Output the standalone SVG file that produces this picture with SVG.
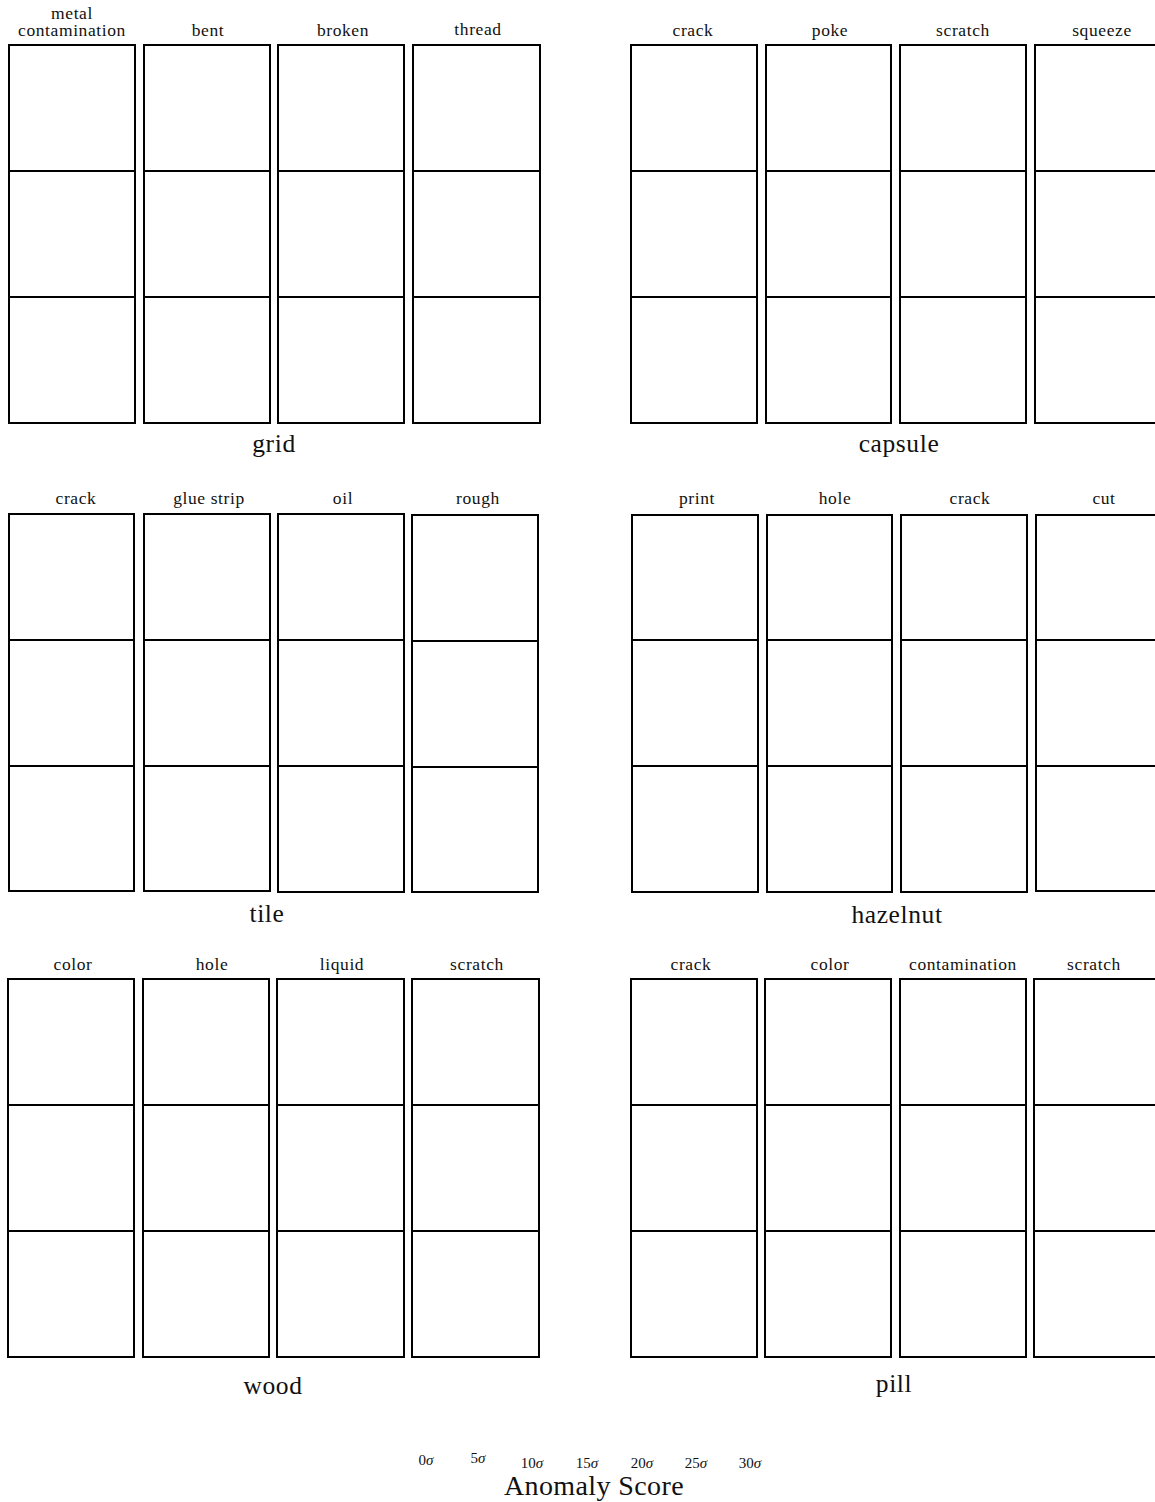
<svg xmlns="http://www.w3.org/2000/svg" width="1155" height="1502" viewBox="0 0 1155 1502">
<style>
.b{fill:none;stroke:#000;stroke-width:2}
.c{font-family:"Liberation Serif","DejaVu Serif",serif;font-size:17.5px;letter-spacing:0.6px;text-anchor:middle;fill:#111}
.t{font-family:"Liberation Serif","DejaVu Serif",serif;font-size:25.5px;letter-spacing:0.6px;text-anchor:middle;fill:#111}
.s{font-family:"Liberation Serif","DejaVu Serif",serif;font-size:15px;text-anchor:middle;fill:#111}
.a{font-family:"Liberation Serif","DejaVu Serif",serif;font-size:28px;letter-spacing:0.4px;text-anchor:middle;fill:#111}
</style>
<rect width="1155" height="1502" fill="#fff"/>
<g id="panel-grid">
<text class="c" x="72" y="19">metal</text>
<text class="c" x="72" y="36">contamination</text>
<text class="c" x="208" y="36">bent</text>
<text class="c" x="343" y="36">broken</text>
<text class="c" x="478" y="35">thread</text>
<rect class="b" x="9" y="45" width="126" height="126"/><rect class="b" x="9" y="171" width="126" height="126"/><rect class="b" x="9" y="297" width="126" height="126"/>
<rect class="b" x="144" y="45" width="126" height="126"/><rect class="b" x="144" y="171" width="126" height="126"/><rect class="b" x="144" y="297" width="126" height="126"/>
<rect class="b" x="278" y="45" width="126" height="126"/><rect class="b" x="278" y="171" width="126" height="126"/><rect class="b" x="278" y="297" width="126" height="126"/>
<rect class="b" x="413" y="45" width="127" height="126"/><rect class="b" x="413" y="171" width="127" height="126"/><rect class="b" x="413" y="297" width="127" height="126"/>
<text class="t" x="274" y="452">grid</text>
</g>
<g id="panel-capsule">
<text class="c" x="693" y="36">crack</text>
<text class="c" x="830" y="36">poke</text>
<text class="c" x="963" y="36">scratch</text>
<text class="c" x="1102" y="36">squeeze</text>
<rect class="b" x="631" y="45" width="126" height="126"/><rect class="b" x="631" y="171" width="126" height="126"/><rect class="b" x="631" y="297" width="126" height="126"/>
<rect class="b" x="766" y="45" width="125" height="126"/><rect class="b" x="766" y="171" width="125" height="126"/><rect class="b" x="766" y="297" width="125" height="126"/>
<rect class="b" x="900" y="45" width="126" height="126"/><rect class="b" x="900" y="171" width="126" height="126"/><rect class="b" x="900" y="297" width="126" height="126"/>
<rect class="b" x="1035" y="45" width="126" height="126"/><rect class="b" x="1035" y="171" width="126" height="126"/><rect class="b" x="1035" y="297" width="126" height="126"/>
<text class="t" x="899" y="452">capsule</text>
</g>
<g id="panel-tile">
<text class="c" x="76" y="504">crack</text>
<text class="c" x="209" y="504">glue strip</text>
<text class="c" x="343" y="504">oil</text>
<text class="c" x="478" y="504">rough</text>
<rect class="b" x="9" y="514" width="125" height="126"/><rect class="b" x="9" y="640" width="125" height="126"/><rect class="b" x="9" y="766" width="125" height="125"/>
<rect class="b" x="144" y="514" width="126" height="126"/><rect class="b" x="144" y="640" width="126" height="126"/><rect class="b" x="144" y="766" width="126" height="125"/>
<rect class="b" x="278" y="514" width="126" height="126"/><rect class="b" x="278" y="640" width="126" height="126"/><rect class="b" x="278" y="766" width="126" height="126"/>
<rect class="b" x="412" y="515" width="126" height="126"/><rect class="b" x="412" y="641" width="126" height="126"/><rect class="b" x="412" y="767" width="126" height="125"/>
<text class="t" x="267" y="922">tile</text>
</g>
<g id="panel-hazelnut">
<text class="c" x="697" y="504">print</text>
<text class="c" x="835" y="504">hole</text>
<text class="c" x="970" y="504">crack</text>
<text class="c" x="1104" y="504">cut</text>
<rect class="b" x="632" y="515" width="126" height="125"/><rect class="b" x="632" y="640" width="126" height="126"/><rect class="b" x="632" y="766" width="126" height="126"/>
<rect class="b" x="767" y="515" width="125" height="125"/><rect class="b" x="767" y="640" width="125" height="126"/><rect class="b" x="767" y="766" width="125" height="126"/>
<rect class="b" x="901" y="515" width="126" height="125"/><rect class="b" x="901" y="640" width="126" height="126"/><rect class="b" x="901" y="766" width="126" height="126"/>
<rect class="b" x="1036" y="515" width="126" height="125"/><rect class="b" x="1036" y="640" width="126" height="126"/><rect class="b" x="1036" y="766" width="126" height="125"/>
<text class="t" x="897" y="923">hazelnut</text>
</g>
<g id="panel-wood">
<text class="c" x="73" y="970">color</text>
<text class="c" x="212" y="970">hole</text>
<text class="c" x="342" y="970">liquid</text>
<text class="c" x="477" y="970">scratch</text>
<rect class="b" x="8" y="979" width="126" height="126"/><rect class="b" x="8" y="1105" width="126" height="126"/><rect class="b" x="8" y="1231" width="126" height="126"/>
<rect class="b" x="143" y="979" width="126" height="126"/><rect class="b" x="143" y="1105" width="126" height="126"/><rect class="b" x="143" y="1231" width="126" height="126"/>
<rect class="b" x="277" y="979" width="127" height="126"/><rect class="b" x="277" y="1105" width="127" height="126"/><rect class="b" x="277" y="1231" width="127" height="126"/>
<rect class="b" x="412" y="979" width="127" height="126"/><rect class="b" x="412" y="1105" width="127" height="126"/><rect class="b" x="412" y="1231" width="127" height="126"/>
<text class="t" x="273" y="1394">wood</text>
</g>
<g id="panel-pill">
<text class="c" x="691" y="970">crack</text>
<text class="c" x="830" y="970">color</text>
<text class="c" x="963" y="970">contamination</text>
<text class="c" x="1094" y="970">scratch</text>
<rect class="b" x="631" y="979" width="126" height="126"/><rect class="b" x="631" y="1105" width="126" height="126"/><rect class="b" x="631" y="1231" width="126" height="126"/>
<rect class="b" x="765" y="979" width="126" height="126"/><rect class="b" x="765" y="1105" width="126" height="126"/><rect class="b" x="765" y="1231" width="126" height="126"/>
<rect class="b" x="900" y="979" width="126" height="126"/><rect class="b" x="900" y="1105" width="126" height="126"/><rect class="b" x="900" y="1231" width="126" height="126"/>
<rect class="b" x="1034" y="979" width="126" height="126"/><rect class="b" x="1034" y="1105" width="126" height="126"/><rect class="b" x="1034" y="1231" width="127" height="126"/>
<text class="t" x="894" y="1392">pill</text>
</g>
<g id="scale">
<text class="s" x="426" y="1465">0<tspan font-style="italic">σ</tspan></text>
<text class="s" x="478" y="1463">5<tspan font-style="italic">σ</tspan></text>
<text class="s" x="532" y="1468">10<tspan font-style="italic">σ</tspan></text>
<text class="s" x="587" y="1468">15<tspan font-style="italic">σ</tspan></text>
<text class="s" x="642" y="1468">20<tspan font-style="italic">σ</tspan></text>
<text class="s" x="696" y="1468">25<tspan font-style="italic">σ</tspan></text>
<text class="s" x="750" y="1468">30<tspan font-style="italic">σ</tspan></text>
<text class="a" x="594" y="1495">Anomaly Score</text>
</g>
</svg>
